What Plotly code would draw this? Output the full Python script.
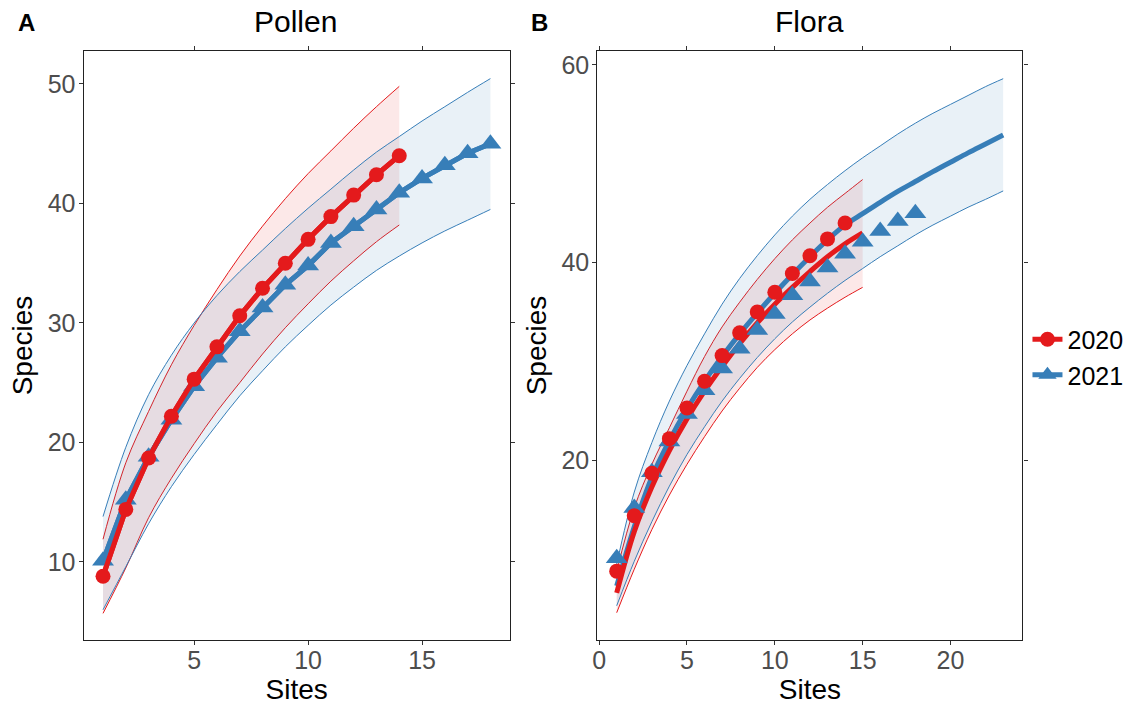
import plotly.graph_objects as go

# ---------------- data ----------------
sites_2020 = list(range(1, 15))
sites_2021 = list(range(1, 19))
sites_2020_ext = list(range(1, 16))
sites_2021_ext = list(range(1, 24))

obs_2020 = [8.8, 14.4, 18.7, 22.2, 25.3, 28.0, 30.6, 32.9, 35.0, 37.0, 38.9, 40.7, 42.4, 44.0]
obs_2021 = [10.1, 15.2, 18.8, 21.9, 24.7, 27.1, 29.3, 31.3, 33.2, 34.8, 36.7, 38.1, 39.5, 40.9, 42.1, 43.2, 44.2, 45.0]

# Pollen confidence band
pollen_2020_lo = [5.7, 9.5, 13.7, 17.0, 19.9, 22.6, 25.0, 27.4, 29.6, 31.6, 33.5, 35.2, 36.8, 38.2]
pollen_2020_hi = [11.9, 18.3, 22.6, 26.5, 29.8, 32.8, 35.6, 38.1, 40.4, 42.5, 44.4, 46.3, 48.1, 49.8]
pollen_2021_lo = [6.0, 9.6, 13.2, 16.3, 19.0, 21.5, 23.9, 26.0, 28.0, 29.8, 31.5, 33.0, 34.4, 35.6, 36.7, 37.7, 38.6, 39.5]
pollen_2021_hi = [13.8, 19.6, 24.0, 27.3, 30.0, 32.3, 34.3, 36.1, 37.9, 39.6, 41.2, 42.8, 44.3, 45.6, 46.9, 48.1, 49.3, 50.45]

# Flora estimated curves and confidence band
flora_2020_est = [6.6, 12.8, 17.3, 21.0, 24.2, 27.0, 29.5, 31.8, 33.9, 35.8, 37.5, 39.1, 40.6, 41.9, 43.0]
flora_2020_lo = [4.6, 9.0, 13.0, 16.5, 19.6, 22.4, 25.0, 27.3, 29.4, 31.2, 32.8, 34.2, 35.4, 36.5, 37.5]
flora_2020_hi = [8.8, 15.2, 19.6, 23.3, 27.0, 30.5, 33.5, 36.0, 38.3, 40.4, 42.3, 44.0, 45.6, 47.0, 48.4]
flora_2021_est = [7.3, 13.3, 18.3, 22.0, 25.2, 28.0, 30.5, 32.8, 34.9, 36.9, 38.8, 40.6, 42.3, 43.8, 44.95,
                  46.1, 47.2, 48.2, 49.2, 50.15, 51.1, 52.0, 52.9]
flora_2021_lo = [5.3, 9.8, 13.8, 17.4, 20.6, 23.4, 26.0, 28.3, 30.4, 32.3, 34.0, 35.5, 36.9, 38.2, 39.4,
                 40.6, 41.7, 42.8, 43.8, 44.7, 45.6, 46.4, 47.25]
flora_2021_hi = [9.5, 16.8, 21.8, 26.0, 29.6, 32.8, 35.8, 38.4, 40.7, 42.8, 44.7, 46.4, 47.9, 49.3, 50.6,
                 51.8, 53.0, 54.1, 55.1, 56.0, 56.9, 57.8, 58.6]

years = ["2020", "2021"]
panel_titles = ["Pollen", "Flora"]
panel_letters = ["A", "B"]

# ---------------- style ----------------
RED = "#E41A1C"
BLUE = "#377EB8"
RED_FILL = "rgba(228,26,28,0.10)"
BLUE_FILL = "rgba(55,126,184,0.11)"
FONT = "Liberation Sans, Arial, sans-serif"
W, H = 1135, 708


def px_x(p):
    return p / W


def px_y(p):
    return 1 - p / H


fig = go.Figure()


def band(x, lo, hi, color, fill, xa, ya):
    fig.add_trace(go.Scatter(x=x, y=lo, mode="lines", line=dict(color=color, width=1, shape="spline"),
                             showlegend=False, hoverinfo="skip", xaxis=xa, yaxis=ya))
    fig.add_trace(go.Scatter(x=x, y=hi, mode="lines", line=dict(color=color, width=1, shape="spline"),
                             fill="tonexty", fillcolor=fill, showlegend=False, hoverinfo="skip",
                             xaxis=xa, yaxis=ya))


# Panel A: Pollen
band(sites_2020, pollen_2020_lo, pollen_2020_hi, RED, RED_FILL, "x", "y")
band(sites_2021, pollen_2021_lo, pollen_2021_hi, BLUE, BLUE_FILL, "x", "y")
fig.add_trace(go.Scatter(x=sites_2020, y=obs_2020, mode="lines", line=dict(color=RED, width=5),
                         showlegend=False, hoverinfo="skip", xaxis="x", yaxis="y"))
fig.add_trace(go.Scatter(x=sites_2021, y=obs_2021, mode="lines", line=dict(color=BLUE, width=5),
                         showlegend=False, hoverinfo="skip", xaxis="x", yaxis="y"))
fig.add_trace(go.Scatter(x=sites_2021, y=obs_2021, mode="lines+markers", name=years[1],
                         line=dict(color=BLUE, width=5),
                         marker=dict(symbol="triangle-up", size=19, color=BLUE),
                         xaxis="x", yaxis="y", legendrank=2))
fig.add_trace(go.Scatter(x=sites_2020, y=obs_2020, mode="lines+markers", name=years[0],
                         line=dict(color=RED, width=5),
                         marker=dict(symbol="circle", size=15, color=RED),
                         xaxis="x", yaxis="y", legendrank=1))

# Panel B: Flora
band(sites_2020_ext, flora_2020_lo, flora_2020_hi, RED, RED_FILL, "x2", "y2")
band(sites_2021_ext, flora_2021_lo, flora_2021_hi, BLUE, BLUE_FILL, "x2", "y2")
fig.add_trace(go.Scatter(x=sites_2021_ext, y=flora_2021_est, mode="lines",
                         line=dict(color=BLUE, width=5, shape="spline"),
                         showlegend=False, hoverinfo="skip", xaxis="x2", yaxis="y2"))
fig.add_trace(go.Scatter(x=sites_2020_ext, y=flora_2020_est, mode="lines",
                         line=dict(color=RED, width=5, shape="spline"),
                         showlegend=False, hoverinfo="skip", xaxis="x2", yaxis="y2"))
fig.add_trace(go.Scatter(x=sites_2021, y=obs_2021, mode="markers",
                         marker=dict(symbol="triangle-up", size=19, color=BLUE),
                         showlegend=False, xaxis="x2", yaxis="y2"))
fig.add_trace(go.Scatter(x=sites_2020, y=obs_2020, mode="markers",
                         marker=dict(symbol="circle", size=15, color=RED),
                         showlegend=False, xaxis="x2", yaxis="y2"))

axis_common = dict(showline=True, linecolor="#222", linewidth=1.3, mirror="ticks", ticks="outside",
                   ticklen=4, tickcolor="#333", tickwidth=1, showgrid=False, zeroline=False,
                   tickfont=dict(family=FONT, size=25, color="#4D4D4D"),
                   title_font=dict(family=FONT, size=28, color="black"))

fig.update_layout(
    width=W, height=H, margin=dict(l=0, r=0, t=0, b=0),
    paper_bgcolor="white", plot_bgcolor="white",
    font=dict(family=FONT),
    xaxis=dict(domain=[px_x(79), px_x(507)], range=[0.15, 18.85], tickvals=[5, 10, 15],
               ticklabelstandoff=-6,
               title=dict(text="Sites", standoff=4), anchor="y", **axis_common),
    yaxis=dict(domain=[px_y(640), px_y(51)], range=[3.47, 52.76], tickvals=[10, 20, 30, 40, 50],
               ticklabelstandoff=-2,
               title=dict(text="Species", standoff=6), anchor="x", **axis_common),
    xaxis2=dict(domain=[px_x(595), px_x(1022)], range=[-0.1, 24.1], tickvals=[0, 5, 10, 15, 20],
                ticklabelstandoff=-6,
                title=dict(text="Sites", standoff=4), anchor="y2", **axis_common),
    yaxis2=dict(domain=[px_y(640), px_y(51)], range=[1.84, 61.4], tickvals=[20, 40, 60],
                ticklabelstandoff=-2,
                title=dict(text="Species", standoff=6), anchor="x2", **axis_common),
    legend=dict(x=px_x(1027), y=px_y(357), xanchor="left", yanchor="middle", traceorder="normal",
                font=dict(family=FONT, size=25, color="black"), bgcolor="rgba(0,0,0,0)",
                itemwidth=30, tracegroupgap=0),
    showlegend=True,
)

for letter, title, lx, tx in zip(panel_letters, panel_titles, [22, 537], [292, 808]):
    fig.add_annotation(text=f"<b>{letter}</b>", x=px_x(lx), y=px_y(23), xref="paper", yref="paper",
                       showarrow=False, font=dict(family=FONT, size=24, color="black"),
                       xanchor="center", yanchor="middle")
    fig.add_annotation(text=title, x=px_x(tx), y=px_y(22), xref="paper", yref="paper",
                       showarrow=False, font=dict(family=FONT, size=30, color="black"),
                       xanchor="center", yanchor="middle")

fig.write_html("out.html", config={"displayModeBar": False},
               post_script="document.body.style.margin='0';document.body.style.overflow='hidden';")
